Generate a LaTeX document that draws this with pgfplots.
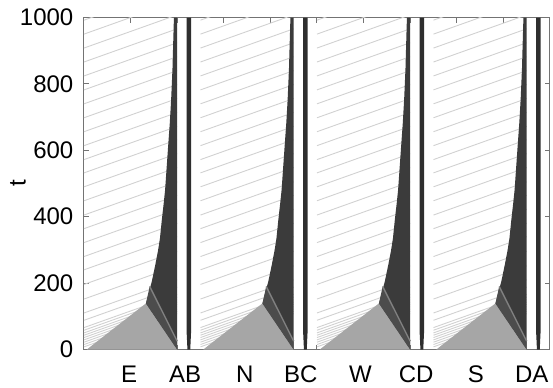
\documentclass[border=0pt]{standalone}
\usepackage{fontspec}
\setmainfont{Liberation Sans}
\usepackage{pgfplots}
\pgfplotsset{compat=1.18}
\usepackage{pgfplotstable}
\usetikzlibrary{calc}

% light trajectories of one panel (relative x), nan rows break the line
\pgfplotstableread{
x t
0 8
200 108
0 nan
0 15
200 115
0 nan
0 22
200 122
0 nan
0 29
200 129
0 nan
0 36
200 136
0 nan
0 43
200 143
0 nan
0 50
200 150
0 nan
0 58
200 158
0 nan
0 66
200 166
0 nan
0 88
200 188
0 nan
0 110
200 210
0 nan
0 152
200 252
0 nan
0 196
200 296
0 nan
0 240
200 340
0 nan
0 280
200 380
0 nan
0 322
200 422
0 nan
0 364
200 464
0 nan
0 405
200 505
0 nan
0 448
200 548
0 nan
0 490
200 590
0 nan
0 532
200 632
0 nan
0 572
200 672
0 nan
0 614
200 714
0 nan
0 656
200 756
0 nan
0 698
200 798
0 nan
0 740
200 840
0 nan
0 782
200 882
0 nan
0 824
200 924
0 nan
0 866
200 966
0 nan
0 908
200 1008
0 nan
0 950
200 1050
0 nan
0 992
200 1092
}\linestab

% light grey fan at the bottom
\pgfplotstableread{
x t
6 0
133 139
200 0
}\graytab

% dark queue wedge
\pgfplotstableread{
x t
133 139
140 175
146 208
153 255
159 299
163 335
167 390
171 440
174 480
180 601
184 680
187 752
190 850
191 903
193 1000
200 1000
200 0
}\darktab

% somewhat lighter part of the wedge near the bottom
\pgfplotstableread{
x t
133 139
141 190
200 25
200 0
}\midtab

\pgfplotstableread{
x t
141 190
200 25
}\streaktab

% thin dark bar
\pgfplotstableread{
x t
222 0
228 0
230 60
230 1000
220 1000
220 60
}\bartab

\begin{document}
\begin{tikzpicture}
\begin{axis}[
  width=233pt, height=166pt, scale only axis,
  xmin=0, xmax=1000, ymin=0, ymax=1000,
  xtick={0,100,...,1000}, xticklabels={},
  extra x ticks={97,217,345,465,593,713,841,961},
  extra x tick labels={E,AB,N,BC,W,CD,S,DA},
  extra x tick style={major tick length=0pt, tick label style={yshift=-4.5pt}},
  ytick={0,200,...,1000},
  yticklabel style={xshift=-1.8pt},
  tick align=inside, major tick length=2.5pt,
  axis line style={black!55, line width=0.5pt},
  tick style={black!55, line width=0.5pt},
  font=\fontsize{12}{14}\selectfont,
  /pgf/number format/assume math mode=true,
  /pgf/number format/1000 sep={},
  ylabel={t},
  y label style={at={(axis description cs:-0.1416,0.5)}, anchor=center},
  unbounded coords=jump,
]
\pgfplotsinvokeforeach{0,250,500,750}{
  \addplot[black!18, line width=0.45pt] table[x expr=\thisrow{x}+#1, y=t]{\linestab};
  \addplot[fill=black!35, draw=none] table[x expr=\thisrow{x}+#1, y=t]{\graytab} -- cycle;
  \addplot[fill=black!77, draw=none] table[x expr=\thisrow{x}+#1, y=t]{\darktab} -- cycle;
  \addplot[fill=black!70, draw=none] table[x expr=\thisrow{x}+#1, y=t]{\midtab} -- cycle;
  \addplot[black!50, line width=0.7pt] table[x expr=\thisrow{x}+#1, y=t]{\streaktab};
  \addplot[fill=black!82, draw=none] table[x expr=\thisrow{x}+#1, y=t]{\bartab} -- cycle;
}
\end{axis}
\pgfresetboundingbox
\useasboundingbox ($(current axis.south west)+(-42pt,-18.75pt)$) rectangle ($(current axis.north east)+(1.5pt,8.75pt)$);
\end{tikzpicture}
\end{document}
